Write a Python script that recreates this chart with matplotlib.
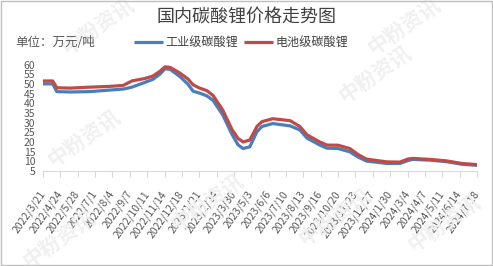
import pandas as pd
import numpy as np
import matplotlib.pyplot as plt
import matplotlib.transforms as mtransforms

plt.rcParams['font.family'] = ['Noto Sans CJK SC', 'DejaVu Sans']

# price points (万元/吨)
dates = ["2022-03-21", "2022-04-09", "2022-04-17", "2022-05-13", "2022-06-21",
         "2022-07-30", "2022-08-25", "2022-09-11", "2022-10-07", "2022-10-22",
         "2022-11-05", "2022-11-15", "2022-11-25", "2022-12-14", "2022-12-30",
         "2023-01-09", "2023-01-22", "2023-02-05", "2023-02-17", "2023-03-08",
         "2023-03-26", "2023-04-07", "2023-04-17", "2023-04-30", "2023-05-14",
         "2023-05-24", "2023-06-14", "2023-07-18", "2023-08-06", "2023-08-20",
         "2023-09-14", "2023-09-28", "2023-10-20", "2023-11-12", "2023-11-28",
         "2023-12-15", "2024-01-24", "2024-02-18", "2024-03-05", "2024-03-14",
         "2024-04-17", "2024-05-20", "2024-06-18", "2024-07-18"]
industrial = [50.0, 50.0, 46.0, 45.8, 46.0, 46.8, 47.3, 48.3, 50.8, 52.3,
              55.0, 57.8, 57.5, 53.8, 49.8, 46.2, 45.2, 43.8, 41.5, 34.0,
              24.0, 18.5, 16.6, 17.5, 25.3, 28.0, 29.5, 28.3, 26.2, 22.0,
              18.4, 16.8, 16.6, 14.9, 12.2, 10.1, 8.9, 8.9, 10.4, 11.0,
              10.6, 9.8, 8.5, 7.9]
battery = [51.5, 51.5, 48.0, 47.8, 48.3, 48.7, 49.2, 51.5, 52.8, 54.0,
           56.5, 58.8, 58.5, 55.6, 52.5, 49.5, 47.8, 46.5, 44.0, 36.5,
           26.5, 21.8, 20.0, 21.0, 28.0, 30.5, 32.0, 31.0, 28.0, 23.7,
           20.0, 18.4, 18.3, 16.6, 13.5, 11.1, 9.7, 9.6, 11.2, 11.5,
           11.0, 10.2, 8.9, 8.3]

tick_labels = ["2022/3/21", "2022/4/24", "2022/5/28", "2022/7/1", "2022/8/4",
               "2022/9/7", "2022/10/11", "2022/11/14", "2022/12/18", "2023/1/21",
               "2023/2/24", "2023/3/30", "2023/5/3", "2023/6/6", "2023/7/10",
               "2023/8/13", "2023/9/16", "2023/10/20", "2023/11/23", "2023/12/27",
               "2024/1/30", "2024/3/4", "2024/4/7", "2024/5/11", "2024/6/14",
               "2024/7/18"]

df = pd.DataFrame({"date": pd.to_datetime(dates),
                   "industrial": industrial, "battery": battery})
tick_dates = pd.to_datetime(tick_labels, format="%Y/%m/%d")

fig = plt.figure(figsize=(4.93, 2.66), dpi=100)
ax = fig.add_axes([43 / 493, 1 - 171 / 266, 434 / 493, 106.5 / 266])

# faint watermarks
wm = dict(color='#f0f0f0', fontsize=15, fontweight='bold', rotation=35,
          ha='center', va='center', zorder=0)
for x, y in [(0.20, 0.90), (0.17, 0.48), (0.76, 0.72), (0.82, 0.90),
             (0.42, 0.24), (0.68, 0.18), (0.90, 0.16), (0.12, 0.10)]:
    fig.text(x, y, "中粉资讯", **wm)

ax.plot(df["date"], df["industrial"], color='#4A7EBB', lw=2.3,
        label="工业级碳酸锂", solid_capstyle='butt')
ax.plot(df["date"], df["battery"], color='#BE4B48', lw=2.3,
        label="电池级碳酸锂", solid_capstyle='butt')

ax.set_xlim(tick_dates[0], tick_dates[-1])
ax.set_ylim(5, 60)
ax.set_yticks(range(5, 61, 5))
ax.set_xticks(tick_dates)
ax.set_xticklabels(tick_labels, rotation=55, ha='right', va='center',
                   rotation_mode='anchor')
offset = mtransforms.ScaledTranslation(6 / 100, 0, fig.dpi_scale_trans)
for lab in ax.get_xticklabels():
    lab.set_transform(lab.get_transform() + offset)

ax.tick_params(axis='x', length=4, width=0.8, color='#d9d9d9', pad=11,
               labelsize=7.5, labelcolor='#595959')
ax.tick_params(axis='y', length=0, pad=5.5, labelsize=7.5, labelcolor='#595959')
for s in ['top', 'right', 'left']:
    ax.spines[s].set_visible(False)
ax.spines['bottom'].set_color('#d9d9d9')
ax.patch.set_alpha(0)

fig.text(0.5, 0.935, "国内碳酸锂价格走势图", ha='center', va='center',
         fontsize=13, color='#404040')
fig.text(15 / 493, 1 - 42 / 266, "单位：万元/吨", ha='left', va='center',
         fontsize=9, color='#595959')
ax.legend(loc='center', bbox_to_anchor=(241 / 493, 1 - 43 / 266),
          bbox_transform=fig.transFigure, ncol=2, frameon=False,
          fontsize=8.7, handlelength=2.4, columnspacing=0.5,
          handletextpad=0.2, labelcolor='#404040')

# outer frame
fig.patches.append(plt.Rectangle((0.002, 0.004), 0.996, 0.992, fill=False,
                                 edgecolor='#bfbfbf', lw=1,
                                 transform=fig.transFigure))

plt.savefig("out.png", dpi=100)
